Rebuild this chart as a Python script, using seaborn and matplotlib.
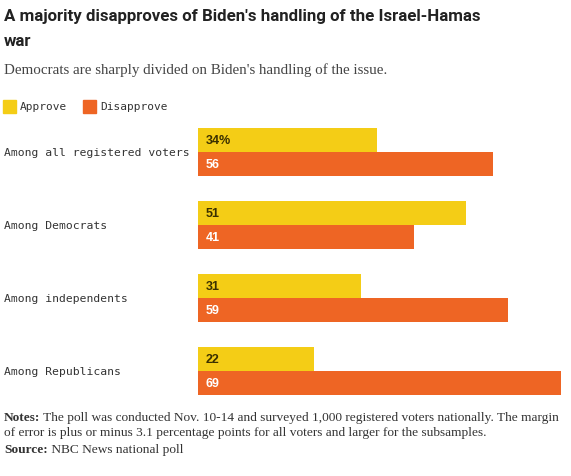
import pandas as pd
import seaborn as sns
import matplotlib.pyplot as plt

groups = ["Among all registered voters", "Among Democrats", "Among independents", "Among Republicans"]
approve = [34, 51, 31, 22]
disapprove = [56, 41, 59, 69]
series = ["Approve", "Disapprove"]
colors = ["#F4CD16", "#EE6524"]

df = pd.DataFrame({
    "group": groups * 2,
    "answer": ["Approve"] * 4 + ["Disapprove"] * 4,
    "value": approve + disapprove,
})

sns.set_theme(style="white")
mono = "DejaVu Sans Mono"
serif = "Liberation Serif"

fig = plt.figure(figsize=(5.71, 4.77), dpi=100)
ax = fig.add_axes([198 / 571, 1 - 396 / 477, 363 / 571, 267 / 477])

sns.barplot(data=df, y="group", x="value", hue="answer", palette=colors,
            width=0.66, dodge=True, orient="h", ax=ax, legend=False,
            saturation=1, linewidth=0)
ax.set_xlim(0, 69)
ax.set_ylim(3.33, -0.33)
ax.set_axis_off()

# value labels + group names
for i, g in enumerate(groups):
    a = approve[i]
    d = disapprove[i]
    ax.text(1.5, i - 0.165, f"{a}%" if i == 0 else str(a), va="center", ha="left",
            fontsize=9, fontweight="bold", color="#3a3000", family="Liberation Sans")
    ax.text(1.5, i + 0.165, str(d), va="center", ha="left",
            fontsize=9, fontweight="bold", color="white", family="Liberation Sans")
    fig.text(4 / 571, 1 - (153 + 73 * i) / 477, g, va="center", ha="left",
             fontsize=8.2, family=mono, color="#333333")

# title block
title_kw = dict(fontsize=12.2, fontweight="bold", family="Roboto", color="#222222", va="center")
fig.text(4 / 571, 1 - 17 / 477, "A majority disapproves of Biden's handling of the Israel-Hamas", **title_kw)
fig.text(4 / 571, 1 - 41 / 477, "war", **title_kw)
fig.text(4 / 571, 1 - 70 / 477, "Democrats are sharply divided on Biden's handling of the issue.",
         fontsize=10.8, family=serif, color="#444444", va="center")

# legend
for x0, lab, c in [(3, series[0], colors[0]), (83, series[1], colors[1])]:
    fig.patches.append(plt.Rectangle((x0 / 571, 1 - 114 / 477), 13 / 571, 13 / 477,
                                     transform=fig.transFigure, color=c))
    fig.text((x0 + 17) / 571, 1 - 107 / 477, lab, fontsize=8, family=mono,
             color="#333333", va="center")

# notes
note_kw = dict(fontsize=9.6, family=serif, color="#333333", va="bottom")
t = fig.text(4 / 571, 1 - 424 / 477, "Notes:", fontweight="bold", **note_kw)
ax.annotate(" The poll was conducted Nov. 10-14 and surveyed 1,000 registered voters nationally. The margin",
            xy=(1, 0), xycoords=t, annotation_clip=False, **note_kw)
fig.text(4 / 571, 1 - 439 / 477,
         "of error is plus or minus 3.1 percentage points for all voters and larger for the subsamples.",
         **note_kw)
s = fig.text(4 / 571, 1 - 456 / 477, "Source:", fontweight="bold", **note_kw)
ax.annotate(" NBC News national poll", xy=(1, 0), xycoords=s, annotation_clip=False, **note_kw)

fig.savefig("out.png", dpi=100)
